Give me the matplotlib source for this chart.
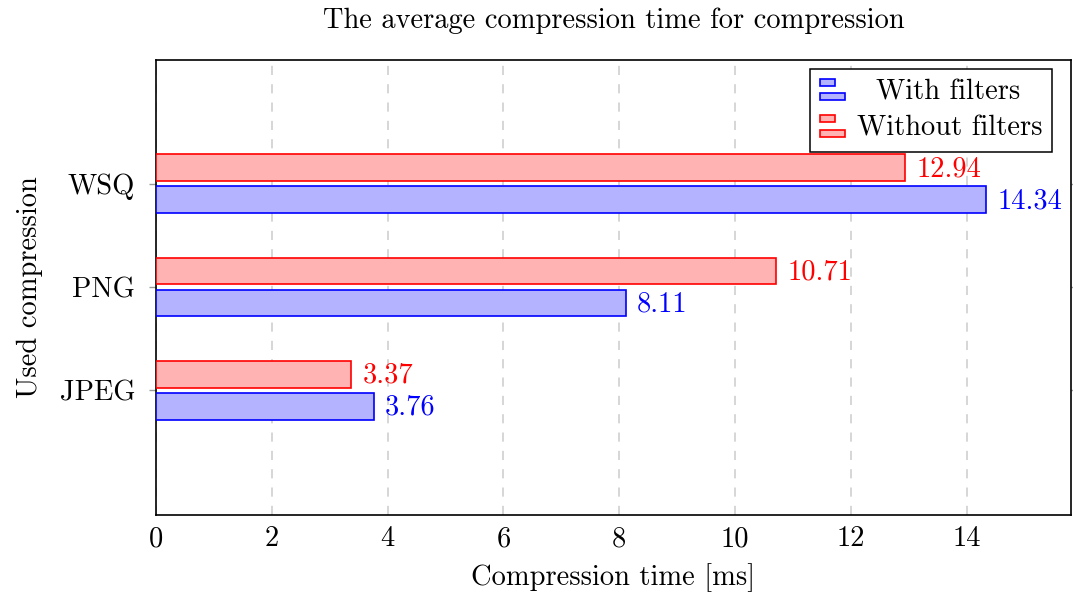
import matplotlib
matplotlib.use("Agg")
import matplotlib.pyplot as plt
from matplotlib.patches import Rectangle
from matplotlib.legend_handler import HandlerBase
from matplotlib.container import BarContainer
import numpy as np

plt.rcParams["font.family"] = ["cmr10", "DejaVu Serif"]
plt.rcParams["mathtext.fontset"] = "cm"
plt.rcParams["axes.formatter.use_mathtext"] = True

categories = ["JPEG", "PNG", "WSQ"]
with_filters = [3.76, 8.11, 14.34]
without_filters = [3.37, 10.71, 12.94]
x_ticks = [0, 2, 4, 6, 8, 10, 12, 14]
legend_labels = ["With filters", "Without filters"]

blue_fill = "#b3b3ff"
red_fill = "#ffb3b3"
FS = 20.5


class TwoBarHandler(HandlerBase):
    """Legend glyph in the pgfplots xbar style: a short bar over a long bar."""

    def create_artists(self, legend, orig_handle, xdescent, ydescent,
                       width, height, fontsize, trans):
        patch = orig_handle[0]
        fc = patch.get_facecolor()
        ec = patch.get_edgecolor()
        h = height * 0.36
        x0 = -xdescent
        r1 = Rectangle((x0, -ydescent + height * 0.66), width * 0.6, h,
                       facecolor=fc, edgecolor=ec, lw=1.2, transform=trans)
        r2 = Rectangle((x0, -ydescent - height * 0.06), width, h,
                       facecolor=fc, edgecolor=ec, lw=1.2, transform=trans)
        return [r1, r2]


fig = plt.figure(figsize=(10.73, 5.97), dpi=100)
ax = fig.add_axes([0.1454, 0.1374, 0.8526, 0.7621])

y = np.arange(len(categories))
bh = 0.26
off = 0.155
b_blue = ax.barh(y - off, with_filters, height=bh, color=blue_fill,
                 edgecolor="blue", linewidth=1.2, zorder=3)
b_red = ax.barh(y + off, without_filters, height=bh, color=red_fill,
                edgecolor="red", linewidth=1.2, zorder=3)

for yi, v in zip(y - off, with_filters):
    ax.annotate(f"{v:.2f}", xy=(v, yi), xytext=(8, -1), textcoords="offset points",
                va="center", ha="left", color="blue", fontsize=FS)
for yi, v in zip(y + off, without_filters):
    ax.annotate(f"{v:.2f}", xy=(v, yi), xytext=(8, -1), textcoords="offset points",
                va="center", ha="left", color="red", fontsize=FS)

ax.set_xlim(0, 15.8)
ax.set_ylim(-1.21, 3.2)
ax.set_xticks(x_ticks)
ax.set_xticklabels([str(t) for t in x_ticks], fontsize=FS)
ax.set_yticks(y)
ax.set_yticklabels(categories, fontsize=FS)
ax.tick_params(axis="y", direction="out", length=5, color="#999999", width=1,
               right=True, pad=10)
ax.tick_params(axis="x", direction="in", length=0, pad=8)

ax.grid(axis="x", color="#cccccc", linestyle=(0, (6, 6)), linewidth=1.1, zorder=0)
for s in ax.spines.values():
    s.set_linewidth(1.2)

ax.set_xlabel("Compression time [ms]", fontsize=FS, labelpad=8)
ax.set_ylabel("Used compression", fontsize=FS, labelpad=12)
ax.set_title("The average compression time for compression", fontsize=FS, pad=23)

# labels are centred in their column, as in pgfplots legends
widest = max(len(s) for s in legend_labels)
centred = [" " * round((widest - len(s)) * 0.55) + s for s in legend_labels]

leg = ax.legend([b_blue, b_red], centred, loc="upper right", fontsize=FS,
                bbox_to_anchor=(1052 / 1073, 1 - 69 / 597),
                bbox_transform=fig.transFigure,
                handler_map={BarContainer: TwoBarHandler()},
                fancybox=False, edgecolor="black", framealpha=1,
                borderaxespad=0, handlelength=0.9, handletextpad=0.4,
                labelspacing=0.35, borderpad=0.35)
leg.get_frame().set_linewidth(1.1)

fig.savefig("out.png", dpi=100)
